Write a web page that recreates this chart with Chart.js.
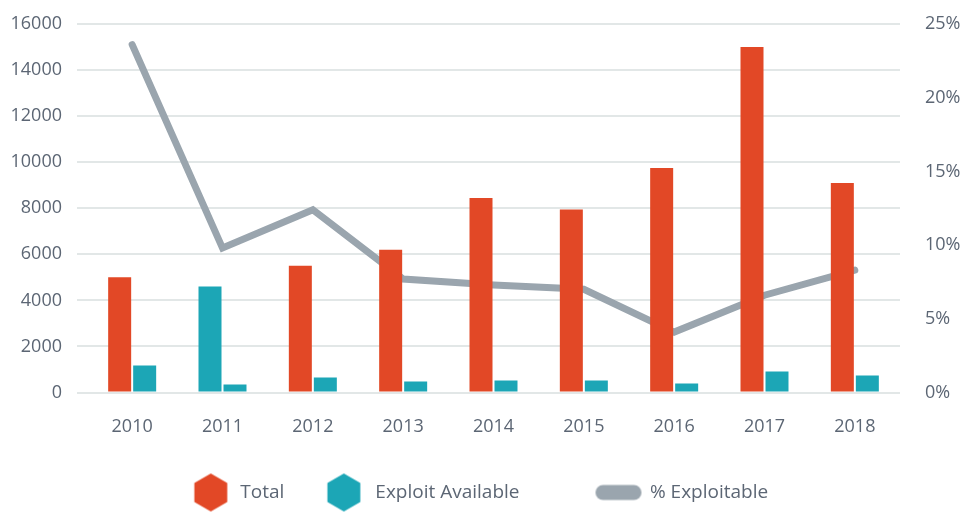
<!DOCTYPE html>
<html>
<head>
<meta charset="utf-8">
<script src="https://cdn.jsdelivr.net/npm/chart.js@4/dist/chart.umd.min.js"></script>
<style>
  html, body { margin: 0; padding: 0; background: #ffffff; }
  #wrap { width: 961px; height: 512px; }
</style>
</head>
<body>
<div id="wrap"><canvas id="c" width="961" height="512"></canvas></div>
<script>
// ---- data ----
const categories = ['2010', '2011', '2012', '2013', '2014', '2015', '2016', '2017', '2018'];
const totalValues = [5000, 4600, 5500, 6200, 8450, 7950, 9750, 15000, 9100];
const exploitValues = [1170, 350, 650, 480, 520, 520, 390, 910, 740];
const pctExploitable = [23.6, 9.8, 12.4, 7.7, 7.3, 7.0, 4.1, 6.6, 8.3];
const leftTicks = [0, 2000, 4000, 6000, 8000, 10000, 12000, 14000, 16000];
const rightTicks = [0, 5, 10, 15, 20, 25];
const seriesNames = ['Total', 'Exploit Available', '% Exploitable'];

// ---- styles ----
const ORANGE = '#e24826';
const TEAL = '#1ca6b6';
const GREY = '#9aa5ae';
const TEXT = '#5c6674';
const GRID = '#e2e7e7';

const totalColors = categories.map((c, i) => i === 1 ? TEAL : ORANGE);

function hexMarker(color, offset) {
  const cv = document.createElement('canvas');
  cv.width = 60; cv.height = 40;
  const g = cv.getContext('2d');
  const cx = 30 + offset, cy = 20, r = 19;
  g.fillStyle = color;
  g.beginPath();
  for (let k = 0; k < 6; k++) {
    const a = Math.PI / 2 + k * Math.PI / 3;
    const px = cx + r * Math.cos(a), py = cy - r * Math.sin(a);
    if (k === 0) g.moveTo(px, py); else g.lineTo(px, py);
  }
  g.closePath();
  g.fill();
  return cv;
}
function lineMarker(color, offset) {
  const cv = document.createElement('canvas');
  cv.width = 60; cv.height = 40;
  const g = cv.getContext('2d');
  const cx = 30 + offset, cy = 20, w = 46, h = 15;
  g.strokeStyle = color;
  g.lineWidth = h;
  g.lineCap = 'round';
  g.beginPath();
  g.moveTo(cx - w / 2 + h / 2, cy);
  g.lineTo(cx + w / 2 - h / 2, cy);
  g.stroke();
  return cv;
}
const markers = [hexMarker(ORANGE, -1), hexMarker(TEAL, -3), lineMarker(GREY, -3)];
// trailing spacing after the 2nd legend entry (wider gap before the line entry)
const legendGaps = ['', '        ', ''];

Chart.defaults.font.family = "'Open Sans', 'Noto Sans', sans-serif";
Chart.defaults.color = TEXT;

new Chart(document.getElementById('c'), {
  data: {
    labels: categories,
    datasets: [
      {
        type: 'bar', label: seriesNames[0], data: totalValues,
        backgroundColor: totalColors, borderWidth: 0, yAxisID: 'y', order: 1,
        categoryPercentage: 0.5535, barPercentage: 0.92
      },
      {
        type: 'bar', label: seriesNames[1], data: exploitValues,
        backgroundColor: TEAL, borderWidth: 0, yAxisID: 'y', order: 1,
        categoryPercentage: 0.5535, barPercentage: 0.92
      },
      {
        type: 'line', label: seriesNames[2], data: pctExploitable,
        borderColor: GREY, backgroundColor: GREY, borderWidth: 7,
        borderCapStyle: 'round', borderJoinStyle: 'miter',
        pointRadius: 0, pointHoverRadius: 0, tension: 0, fill: false,
        yAxisID: 'y2', order: 2
      }
    ]
  },
  options: {
    responsive: false,
    animation: false,
    layout: { padding: { top: 0, left: 0, right: 0, bottom: 0 } },
    plugins: {
      tooltip: { enabled: false },
      legend: {
        position: 'bottom',
        align: 'center',
        labels: {
          usePointStyle: true,
          pointStyleWidth: 38,
          padding: 43.5,
          color: TEXT,
          font: { size: 19 },
          generateLabels: (chart) => {
            const items = Chart.defaults.plugins.legend.labels.generateLabels(chart);
            items.forEach((it, i) => { it.pointStyle = markers[i]; it.text = it.text + legendGaps[i]; });
            return items;
          }
        }
      }
    },
    scales: {
      x: {
        grid: { display: false, drawTicks: false },
        border: { display: false },
        ticks: { font: { size: 18 }, color: TEXT, padding: 24 },
        afterFit: (s) => { s.height = 47; }
      },
      y: {
        position: 'left',
        min: 0, max: 16000,
        afterBuildTicks: (s) => { s.ticks = leftTicks.map(v => ({ value: v })); },
        grid: { color: GRID, lineWidth: 2, drawTicks: true, tickLength: 10, tickColor: GRID },
        border: { display: false },
        ticks: { font: { size: 18, lineHeight: 1 }, color: TEXT, padding: 15, callback: (v) => String(v) },
        afterFit: (s) => { s.width = 87; }
      },
      y2: {
        position: 'right',
        min: 0, max: 25,
        afterBuildTicks: (s) => { s.ticks = rightTicks.map(v => ({ value: v })); },
        grid: { display: true, drawOnChartArea: false, drawTicks: true, tickLength: 20, tickColor: 'rgba(0,0,0,0)' },
        border: { display: false },
        ticks: { font: { size: 18, lineHeight: 1 }, color: TEXT, padding: 5, callback: (v) => v + '%' },
        afterFit: (s) => { s.width = 61; }
      }
    }
  }
});
</script>
</body>
</html>
